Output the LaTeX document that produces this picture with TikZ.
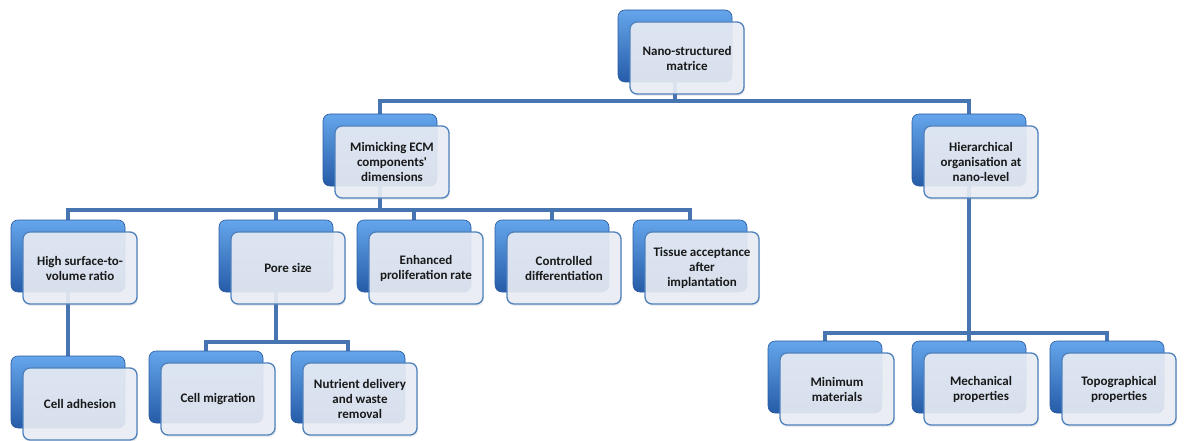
\documentclass[tikz,border=0pt]{standalone}
\usepackage{fontspec}
\setmainfont{Carlito}
\usepackage{tikz}
\usetikzlibrary{backgrounds, shadows}

\definecolor{linkblue}{RGB}{70,117,178}
\definecolor{backtop}{RGB}{100,165,235}
\definecolor{backmid}{RGB}{66,128,205}
\definecolor{backbot}{RGB}{38,92,168}
\definecolor{backline}{RGB}{42,90,158}
\definecolor{frontfill}{RGB}{234,238,245}
\definecolor{frontline}{RGB}{79,129,189}

\tikzset{
  backbox/.style={rounded corners=7pt, minimum width=114pt, minimum height=72pt,
    top color=backtop, middle color=backmid, bottom color=backbot,
    draw=backline, line width=0.6pt},
  frontbox/.style={rounded corners=7pt, minimum width=114pt, minimum height=72pt,
    fill=frontfill, fill opacity=0.9, text opacity=1, draw=frontline, line width=1.3pt,
    drop shadow={opacity=0.15, shadow xshift=1pt, shadow yshift=-2pt},
    align=center, font=\fontsize{13}{15}\selectfont\bfseries, inner sep=2pt,
    text=black!90},
  link/.style={draw=linkblue, line width=4pt}
}

\begin{document}
\begin{tikzpicture}[x=1pt, y=-1pt]
\useasboundingbox (0,0) rectangle (1186,441);

% --- top ---
\node[backbox] (nano-b) at (675,46) {};
\node[frontbox] (nano) at (687,58) {Nano-structured\\matrice};

% --- second level ---
\node[backbox] (ecm-b) at (380,150) {};
\node[frontbox] (ecm) at (392,162) {Mimicking ECM\\components\textquotesingle\\dimensions};
\node[backbox] (hier-b) at (969,150) {};
\node[frontbox] (hier) at (981,162) {Hierarchical\\organisation at\\nano-level};

% --- third level ---
\node[backbox] (high-b) at (68,256) {};
\node[frontbox] (high) at (80,268) {High surface-to-\\volume ratio};
\node[backbox] (pore-b) at (276,256) {};
\node[frontbox] (pore) at (288,268) {Pore size};
\node[backbox] (enh-b) at (414,256) {};
\node[frontbox] (enh) at (426,268) {Enhanced\\proliferation rate};
\node[backbox] (ctrl-b) at (552,256) {};
\node[frontbox] (ctrl) at (564,268) {Controlled\\differentiation};
\node[backbox] (tissue-b) at (690,256) {};
\node[frontbox] (tissue) at (702,268) {Tissue acceptance\\after\\implantation};

% --- bottom level ---
\node[backbox] (adh-b) at (68,392) {};
\node[frontbox] (adh) at (80,404) {Cell adhesion};
\node[backbox] (mig-b) at (206,387) {};
\node[frontbox] (mig) at (218,399) {Cell migration};
\node[backbox] (nutr-b) at (348,387) {};
\node[frontbox] (nutr) at (360,399) {Nutrient delivery\\and waste\\removal};
\node[backbox] (min-b) at (825,377) {};
\node[frontbox] (min) at (837,389) {Minimum\\materials};
\node[backbox] (mech-b) at (969,377) {};
\node[frontbox] (mech) at (981,389) {Mechanical\\properties};
\node[backbox] (topo-b) at (1107,377) {};
\node[frontbox] (topo) at (1119,389) {Topographical\\properties};

% connectors
\coordinate (j1) at (675,101);
\coordinate (j2) at (380,210);
\coordinate (j3) at (276,342);
\coordinate (j4) at (969,333);
\begin{pgfonlayer}{background}
  \draw[link] (nano-b) -- (j1);
  \draw[link] (ecm-b) |- (j1) -| (hier-b);
  \draw[link] (ecm-b) -- (j2);
  \draw[link] (high-b) |- (j2) -| (tissue-b);
  \draw[link] (pore-b) -- (pore-b |- j2);
  \draw[link] (enh-b) -- (enh-b |- j2);
  \draw[link] (ctrl-b) -- (ctrl-b |- j2);
  \draw[link] (high-b) -- (adh-b);
  \draw[link] (pore-b) -- (j3);
  \draw[link] (mig-b) |- (j3) -| (nutr-b);
  \draw[link] (hier-b) -- (j4);
  \draw[link] (min-b) |- (j4) -| (topo-b);
  \draw[link] (mech-b) -- (j4);
\end{pgfonlayer}

\end{tikzpicture}
\end{document}
